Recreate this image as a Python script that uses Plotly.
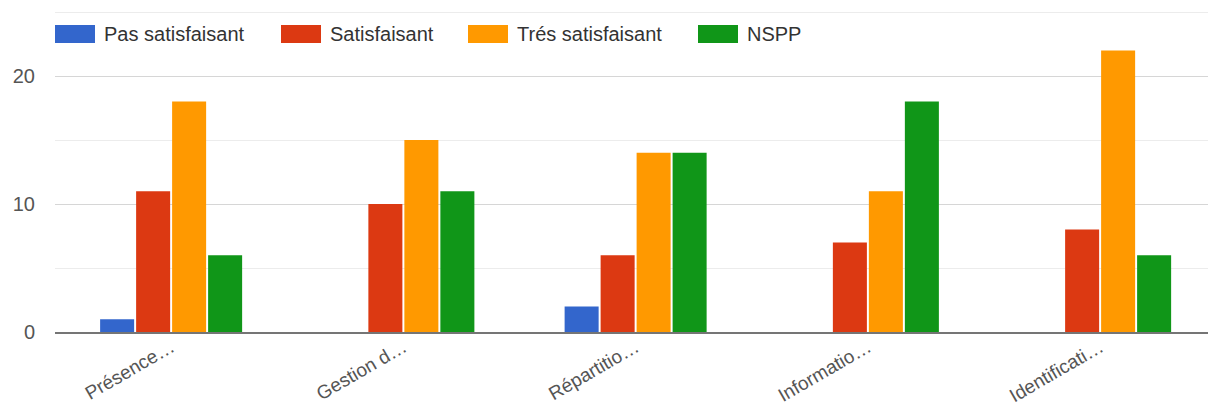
import plotly.graph_objects as go

categories = ["Présence…", "Gestion d…", "Répartitio…", "Informatio…", "Identificati…"]
series_names = ["Pas satisfaisant", "Satisfaisant", "Trés satisfaisant", "NSPP"]
pas_satisfaisant = [1, 0, 2, 0, 0]
satisfaisant = [11, 10, 6, 7, 8]
tres_satisfaisant = [18, 15, 14, 11, 22]
nspp = [6, 11, 14, 18, 6]
series_values = [pas_satisfaisant, satisfaisant, tres_satisfaisant, nspp]
colors = ["#3366cc", "#dc3912", "#ff9900", "#109618"]
y_ticks = [0, 10, 20]
y_minor_ticks = [5, 15, 25]

FONT = "Liberation Sans, Arial, sans-serif"
W, H = 1208, 408
L, R, T, B = 55, 0, 11, 76

fig = go.Figure()
for name, vals, col in zip(series_names, series_values, colors):
    fig.add_trace(go.Bar(
        x=list(range(len(categories))), y=vals, name=name,
        marker=dict(color=col, line=dict(width=0)),
        showlegend=False,
    ))

plot_w = W - L - R
plot_h = H - T - B
pitch = 232.25
x_left = -0.5
x_right = x_left + plot_w / pitch

fig.update_layout(
    width=W, height=H,
    margin=dict(l=L, r=R, t=T, b=B, pad=0, autoexpand=False),
    paper_bgcolor="white", plot_bgcolor="white",
    barmode="group", bargap=0.38, bargroupgap=0.055,
    font=dict(family=FONT, size=20, color="#444"),
    xaxis=dict(
        range=[x_left, x_right], automargin=False,
        tickmode="array", tickvals=list(range(len(categories))), ticktext=categories,
        tickangle=-30, showgrid=False, zeroline=False,
        showline=True, linecolor="#757575", linewidth=2,
        ticks="", ticklabelstandoff=-5, tickfont=dict(size=19, color="#555"),
    ),
    yaxis=dict(
        range=[0, 25.08], automargin=False, tickmode="array", tickvals=y_ticks,
        showgrid=True, gridcolor="#d6d6d6", gridwidth=1,
        minor=dict(tickmode="array", tickvals=y_minor_ticks, showgrid=True, gridcolor="#ececec", gridwidth=1),
        zeroline=False, showline=False, ticks="",
        ticklabelstandoff=19,
        tickfont=dict(size=20, color="#555"),
    ),
)

sw_x = [55, 281, 468, 698]
sw_w, sw_top, sw_bot = 40, 25, 43

def px_x(px):
    return (px - L) / plot_w

def px_y(py):
    return (H - B - py) / plot_h

for name, col, sx in zip(series_names, colors, sw_x):
    fig.add_shape(type="rect", xref="paper", yref="paper",
                  x0=px_x(sx), x1=px_x(sx + sw_w), y0=px_y(sw_bot), y1=px_y(sw_top),
                  fillcolor=col, line=dict(width=0), layer="above")
    fig.add_annotation(xref="paper", yref="paper", x=px_x(sx + sw_w + 7), y=px_y((sw_top + sw_bot) / 2),
                       text=name, showarrow=False, xanchor="left", yanchor="middle",
                       font=dict(family=FONT, size=20, color="#333"))

fig.write_html("out.html", config={"displayModeBar": False},
               post_script="document.body.style.margin='0px';document.body.style.overflow='hidden';")
